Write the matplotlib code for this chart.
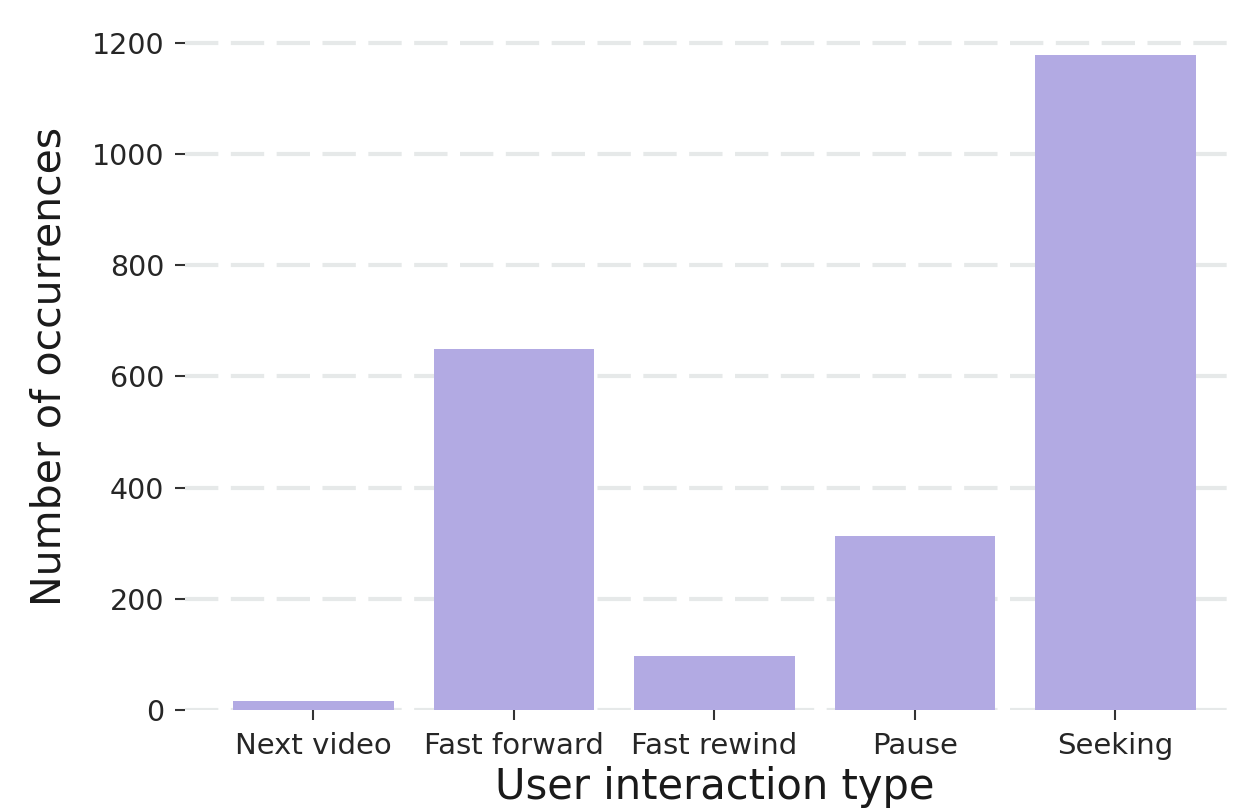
import matplotlib.pyplot as plt

# interaction counts
categories = ["Next video", "Fast forward", "Fast rewind", "Pause", "Seeking"]
counts = [16, 650, 97, 313, 1178]
y_ticks = [0, 200, 400, 600, 800, 1000, 1200]

fig = plt.figure(figsize=(12.34, 8.08), dpi=100)
ax = fig.add_axes([0.1499, 0.1213, 0.858, 0.851])

ax.bar(categories, counts, width=0.8, color='#b2aae3', zorder=2)

ax.set_yticks(y_ticks)
ax.grid(axis='y', color='#e6e9e9', linewidth=3, linestyle=(0, (8, 3)), zorder=0)
ax.grid(axis='x', visible=False)
for s in ax.spines.values():
    s.set_visible(False)

ax.tick_params(axis='both', colors='#333333', labelcolor='#262626', labelsize=21,
               length=7, width=1.5)
ax.tick_params(axis='y', labelsize=20.5, pad=8)
ax.tick_params(axis='x', pad=9)

ax.set_xlabel("User interaction type", fontsize=30, color='#1a1a1a', labelpad=4)
ax.set_ylabel("Number of occurrences", fontsize=29.5, color='#1a1a1a', labelpad=16)

fig.savefig("out.png", dpi=100)
